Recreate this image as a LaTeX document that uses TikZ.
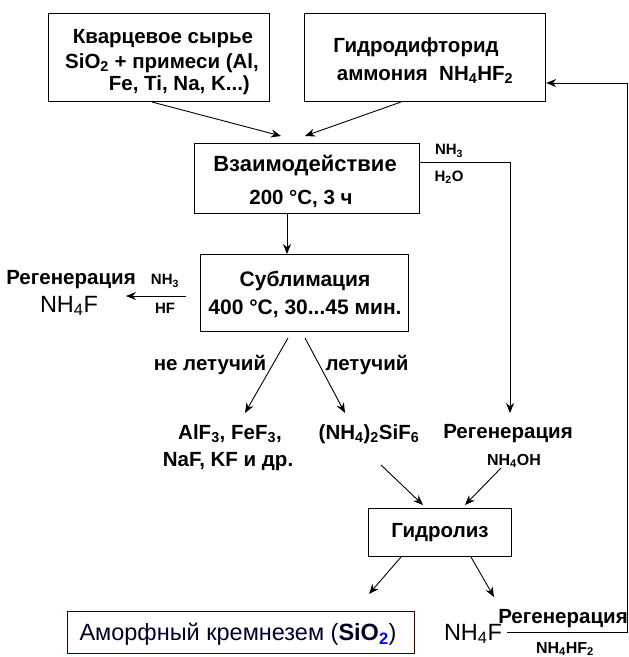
\documentclass[tikz,border=0pt]{standalone}
\usepackage{fontspec}
\setmainfont{Liberation Sans}
\usetikzlibrary{arrows.meta}
\newcommand\sbs[1]{\textsubscript{#1}}
\begin{document}
\begin{tikzpicture}[x=1pt,y=-1pt,
  box/.style={draw,line width=1.2pt},
  txt/.style={font=\bfseries\fontsize{20.5}{22}\selectfont,inner sep=0pt,yshift=-2pt},
  big/.style={font=\fontsize{23.5}{25}\selectfont,inner sep=0pt,yshift=-1pt},
  sm/.style={font=\bfseries\fontsize{15}{17}\selectfont,inner sep=0pt,yshift=-1pt},
  arr/.style={line width=0.9pt,-{Stealth[length=10pt,width=8pt]}},
  ln/.style={line width=1pt}]
\useasboundingbox (0,0) rectangle (629,657);
% boxes
\node[box,minimum width=221pt,minimum height=88pt,anchor=north west] (b1) at (48,13) {};
\node[txt] (b1a) at (163,37) {Кварцевое сырье};
\node[txt] (b1b) at (162,61) {SiO\sbs{2} + примеси (Al,};
\node[txt,anchor=east] (b1c) at (250,83) {Fe, Ti, Na, K...)};
\node[box,minimum width=241pt,minimum height=88pt,anchor=north west] (b2) at (304,13) {};
\node[txt] (b2a) at (416,45) {Гидродифторид};
\node[txt] (b2b) at (425,73) {аммония\ \ NH\sbs{4}HF\sbs{2}};
\node[box,minimum width=225pt,minimum height=70pt,anchor=north west] (b3) at (194,143) {};
\node[txt,font=\bfseries\fontsize{22}{24}\selectfont] (b3a) at (305,163) {Взаимодействие};
\node[txt] (b3b) at (301,197) {200 °C, 3 ч};
\node[box,minimum width=208pt,minimum height=77pt,anchor=north west] (b4) at (200,254) {};
\node[txt,font=\bfseries\fontsize{21}{23}\selectfont] (b4a) at (305,279) {Сублимация};
\node[txt,font=\bfseries\fontsize{21}{23}\selectfont] (b4b) at (305,307) {400 °C, 30...45 мин.};
\node[box,minimum width=143pt,minimum height=48pt,anchor=north west] (b5) at (368,508) {};
\node[txt] (b5a) at (440,531) {Гидролиз};
\node[draw=black!80!red,line width=1.2pt,minimum width=347pt,minimum height=42pt,anchor=north west] (b6) at (67,611) {};
\node[inner sep=0pt,yshift=-1pt,font=\fontsize{23.5}{25}\selectfont,text=black!85!blue] (b6a) at (238,633) {Аморфный кремнезем (\textbf{SiO}\textsubscript{\textcolor{blue}{\textbf{2}}})};
% left regeneration
\node[txt] (rl) at (71,278) {Регенерация};
\node[big] (rlf) at (69,305) {NH\sbs{4}F};
\node[sm] (rnh) at (165,280) {NH\sbs{3}};
\node[sm] (rhf) at (165,307) {HF};
\coordinate (al1) at (186,296);
\coordinate (al2) at (126,296);
\draw[arr] (al1) -- (al2);
% top arrows
\coordinate (t1) at (152,102);
\coordinate (t1e) at (281,136);
\coordinate (t2) at (401,102);
\coordinate (t2e) at (305,136);
\draw[arr] (t1) -- (t1e);
\draw[arr] (t2) -- (t2e);
% down
\draw[arr] (b3.south -| 287,0) -- (b4.north -| 287,0);
% NH3 H2O
\node[sm] (nh3) at (449,150) {NH\sbs{3}};
\node[sm] (h2o) at (449,176) {H\sbs{2}O};
\coordinate (c1) at (510,162);
\coordinate (c2) at (510,413);
\draw[arr] (b3.east |- c1) -- (c1) -- (c2);
% sublimation outputs
\coordinate (s1) at (288,338);
\coordinate (s1e) at (245,413);
\coordinate (s2) at (305,338);
\coordinate (s2e) at (345,413);
\draw[arr] (s1) -- (s1e);
\draw[arr] (s2) -- (s2e);
\node[txt] (nl) at (210,363) {не летучий};
\node[txt] (l) at (367,363) {летучий};
\node[txt] (p1) at (230,432) {AlF\sbs{3}, FeF\sbs{3},};
\node[txt] (p2) at (228,460) {NaF, KF и др.};
\node[txt] (p3) at (369,432) {(NH\sbs{4})\sbs{2}SiF\sbs{6}};
\node[txt] (rr) at (508,432) {Регенерация};
\node[sm,font=\bfseries\fontsize{16}{18}\selectfont] (roh) at (514,460) {NH\sbs{4}OH};
% to hydrolysis
\coordinate (h1) at (381,465);
\coordinate (h1e) at (423,505);
\coordinate (h2) at (501,468);
\coordinate (h2e) at (465,505);
\draw[arr] (h1) -- (h1e);
\draw[arr] (h2) -- (h2e);
\coordinate (g1) at (401,557);
\coordinate (g1e) at (369,594);
\coordinate (g2) at (471,557);
\coordinate (g2e) at (494,597);
\draw[arr] (g1) -- (g1e);
\draw[arr] (g2) -- (g2e);
% bottom right
\node[big] (nf) at (473,633) {NH\sbs{4}F};
\node[txt] (rb) at (563,617) {Регенерация};
\node[sm,font=\bfseries\fontsize{16}{18}\selectfont] (rbf) at (565,648) {NH\sbs{4}HF\sbs{2}};
\coordinate (r1) at (507,632);
\coordinate (r2) at (627,632);
\coordinate (r3) at (627,83);
\draw[ln] (r1) -- (r2) -- (r3);
\draw[arr] (r3) -- (b2.east |- r3);
\end{tikzpicture}
\end{document}
